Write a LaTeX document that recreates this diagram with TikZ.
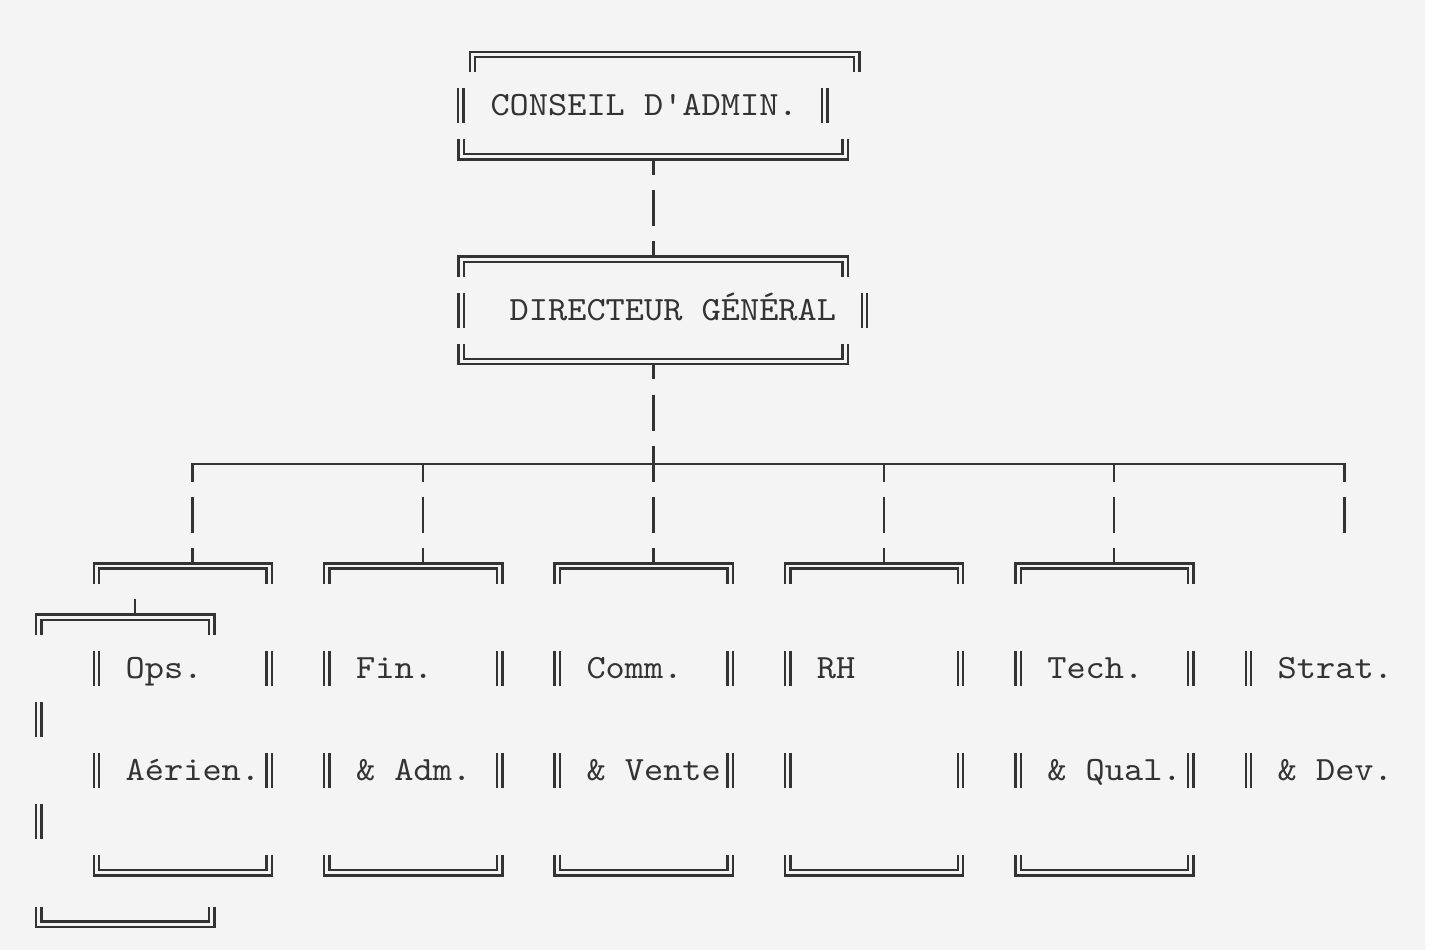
\documentclass[tikz,border=0pt]{standalone}
\usepackage{fontspec}
\setmonofont{lmmono10-regular.otf}[FakeStretch=1.0756]
\definecolor{ink}{HTML}{333333}
\definecolor{paper}{HTML}{F4F4F4}
\tikzset{
  rule/.style={draw=ink,line width=1.2pt},
  link/.style={rule,dash pattern=on 18pt off 7.575pt,dash phase=9pt},
  dbl/.style={draw=ink,line width=1.2pt,double=paper,double distance=1.45pt},
  lbl/.style={inner sep=0pt,anchor=base west,text=ink,font=\ttfamily\fontsize{17pt}{17pt}\selectfont}
}
% character cells of the text grid (in px)
\newcommand{\cellx}[1]{19.7+19.2*(#1)}
\newcommand{\textx}[1]{10.1+19.2*(#1)}
\newcommand{\celly}[1]{54.5+51.15*(#1)}
% pieces of the double frames
\newcommand{\topedge}[3]{\draw[dbl] ({#1},{\celly{#3}+17.5}) |- ({#2},{\celly{#3}}) -- ({#2},{\celly{#3}+17.5});}
\newcommand{\botedge}[3]{\draw[dbl] ({#1},{\celly{#3}-17.5}) |- ({#2},{\celly{#3}}) -- ({#2},{\celly{#3}-17.5});}
\newcommand{\wall}[2]{\draw[dbl] ({#1},{\celly{#2}-17.5}) -- ({#1},{\celly{#2}+17.5});}

\begin{document}
\begin{tikzpicture}[x=0.5pt,y=-0.5pt]
%background
\fill[white] (0,0) rectangle (1434,950);
\fill[paper] (0,0) rectangle (1425,950);
\useasboundingbox (0,0) rectangle (1434,950);
%connector ends
\coordinate (ca-s) at ({\cellx{33}},{\celly{2}});
\coordinate (dg-n) at ({\cellx{33}},{\celly{4}});
\coordinate (dg-s) at ({\cellx{33}},{\celly{6}});
\coordinate (bus-w) at ({\cellx{9}},{\celly{8}});
\coordinate (bus-e) at ({\cellx{69}},{\celly{8}});
\coordinate (hub) at ({\cellx{33}},{\celly{8}});
\coordinate (strat-n) at ({\cellx{69}},{\celly{9}+18});
\coordinate (ops-hook) at ({\cellx{6}},{\celly{11}-18});
\coordinate (ops2-n) at ({\cellx{6}},{\celly{11}});
%connectors (drawn under the frames)
\draw[link] (ca-s) -- (dg-n);
\draw[link] (dg-s) -- (hub);
\draw[rule,line cap=rect] (bus-w) -- (bus-e);
\foreach \c/\n in {9/ops,21/fin,33/comm,45/rh,57/tech}{
  \coordinate (bus-\n) at ({\cellx{\c}},{\celly{8}});
  \coordinate (\n-n) at ({\cellx{\c}},{\celly{10}});
  \draw[link] (bus-\n) -- (\n-n);
}
\draw[link] (bus-e) -- (strat-n);
\draw[rule] (ops-hook) -- (ops2-n);
%frame of the board
\topedge{472.5}{856.8}{0}
\wall{460.8}{1} \wall{824.7}{1}
\botedge{\cellx{23}}{\cellx{43}}{2}
%frame of the director
\topedge{\cellx{23}}{\cellx{43}}{4}
\wall{\cellx{23}}{5} \wall{\cellx{44}}{5}
\botedge{\cellx{23}}{\cellx{43}}{6}
%frames of the departments
\foreach \c in {4,16,28,40,52}{
  \topedge{\cellx{\c}}{\cellx{\c+9}}{10}
  \botedge{\cellx{\c}}{\cellx{\c+9}}{16}
}
\foreach \c in {4,13,16,25,28,37,40,49,52,61,64}{
  \wall{\cellx{\c}}{12} \wall{\cellx{\c}}{14}
}
%shifted frame under Ops.
\topedge{\cellx{1}}{\cellx{10}}{11}
\wall{\cellx{1}}{13} \wall{\cellx{1}}{15}
\botedge{\cellx{1}}{\cellx{10}}{17}
%texts
\node[lbl] (conseil) at ({\textx{25}},{\celly{1}+10}) {CONSEIL D'ADMIN.};
\node[lbl] (dg) at ({\textx{26}},{\celly{5}+10}) {DIRECTEUR GÉNÉRAL};
\foreach \c/\n/\a in {6/ops/Ops.,18/fin/Fin.,30/comm/Comm.,42/rh/RH,54/tech/Tech.,66/strat/Strat.}
  \node[lbl] (\n-a) at ({\textx{\c}},{\celly{12}+10}) {\a};
\foreach \c/\n/\b in {6/ops/Aérien.,18/fin/\& Adm.,30/comm/\& Vente,54/tech/\& Qual.,66/strat/\& Dev.}
  \node[lbl] (\n-b) at ({\textx{\c}},{\celly{14}+10}) {\b};
\end{tikzpicture}
\end{document}
